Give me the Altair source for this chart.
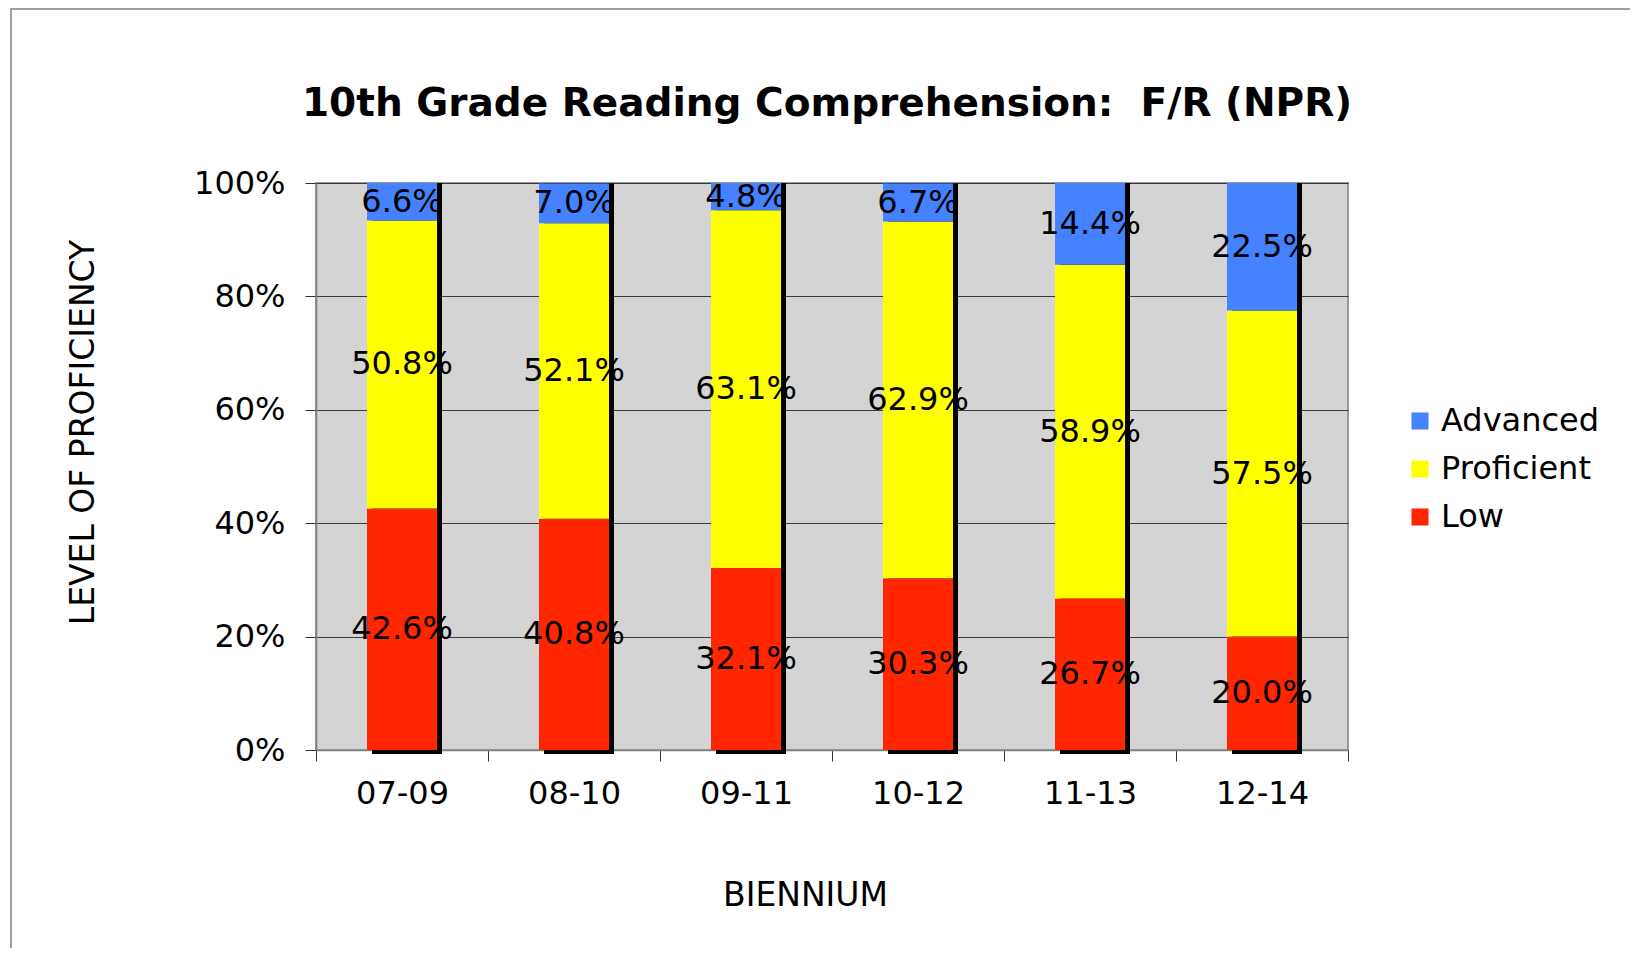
import altair as alt
import pandas as pd

categories = ["07-09", "08-10", "09-11", "10-12", "11-13", "12-14"]
low = [42.6, 40.8, 32.1, 30.3, 26.7, 20.0]
proficient = [50.8, 52.1, 63.1, 62.9, 58.9, 57.5]
advanced = [6.6, 7.0, 4.8, 6.7, 14.4, 22.5]
levels = ["Advanced", "Proficient", "Low"]
colors = ["#4582FF", "#FFFF00", "#FF2600"]
y_ticks = [0, 20, 40, 60, 80, 100]

rows = []
tot_rows = []
for i, c in enumerate(categories):
    base = 0.0
    for lvl, vals in (("Low", low), ("Proficient", proficient), ("Advanced", advanced)):
        v = vals[i]
        rows.append({"cat": c, "level": lvl, "lo": base, "hi": base + v,
                     "mid": base + v / 2, "label": f"{v:.1f}%"})
        base += v
    tot_rows.append({"cat": c, "lo": 0.0, "hi": base})
df = pd.DataFrame(rows)
tot = pd.DataFrame(tot_rows)

FONT = "DejaVu Sans"

xscale = alt.Scale(domain=categories, paddingInner=0, paddingOuter=0)
yscale = alt.Scale(domain=[0, 100], nice=False)

x_enc = alt.X("cat:N", sort=categories, scale=xscale,
              axis=alt.Axis(title="BIENNIUM", titleFontSize=33, titleFontWeight="normal",
                            titleX=489, titleY=129, titleColor="black",
                            labelFontSize=32, labelAngle=0, labelColor="black", labelPadding=17,
                            tickSize=11, tickBand="extent", tickColor="#333333",
                            domainColor="#808080", domainWidth=1.5, grid=False))
y_axis = alt.Axis(title="LEVEL OF PROFICIENCY", titleFontSize=33, titleFontWeight="normal",
                  titleX=-216, titleY=249, titleColor="black",
                  values=y_ticks, labelExpr="datum.value + '%'", labelFontSize=32,
                  labelColor="black", labelPadding=20, tickSize=11, tickColor="#333333",
                  domainColor="#808080", domainWidth=1.5,
                  grid=True, gridColor="#3a3a3a", gridWidth=1.2)

frame = alt.Chart(pd.DataFrame({"a": [0]})).mark_rect(
    fillOpacity=0, stroke="#808080", strokeWidth=1.5
).encode(x=alt.value(-305), x2=alt.value(1400), y=alt.value(-174), y2=alt.value(900))

shadow = alt.Chart(tot).mark_bar(size=70, color="black", xOffset=5, yOffset=4).encode(
    x=x_enc,
    y=alt.Y("lo:Q", scale=yscale, axis=y_axis),
    y2="hi:Q",
)

bars = alt.Chart(df).mark_bar(size=70).encode(
    x=x_enc,
    y=alt.Y("lo:Q", scale=yscale, axis=y_axis),
    y2="hi:Q",
    color=alt.Color("level:N", scale=alt.Scale(domain=levels, range=colors),
                    legend=alt.Legend(title=None, orient="none", legendX=1088, legendY=222,
                                      symbolType="square", symbolSize=290, symbolStrokeWidth=0,
                                      labelFontSize=32, labelColor="black", rowPadding=16,
                                      labelOffset=5)),
)

texts = alt.Chart(df).mark_text(fontSize=32, color="black", align="center", baseline="middle").encode(
    x=x_enc,
    y=alt.Y("mid:Q", scale=yscale, axis=y_axis),
    text="label:N",
)

chart = alt.layer(frame, shadow, bars, texts).properties(
    width=1032, height=567,
    autosize=alt.AutoSizeParams(type="none"),
    padding={"left": 308, "top": 175, "right": 282, "bottom": 198},
    title=alt.TitleParams("10th Grade Reading Comprehension:\u00a0 F/R (NPR)", fontSize=39,
                          fontWeight="bold", font=FONT, anchor="middle", baseline="alphabetic",
                          offset=0, dx=-5, dy=147, color="black"),
).configure(font=FONT).configure_view(fill="#D4D4D4", stroke="#999999", strokeWidth=2)

chart.save("out.html", embed_options={"renderer": "svg", "actions": False})
